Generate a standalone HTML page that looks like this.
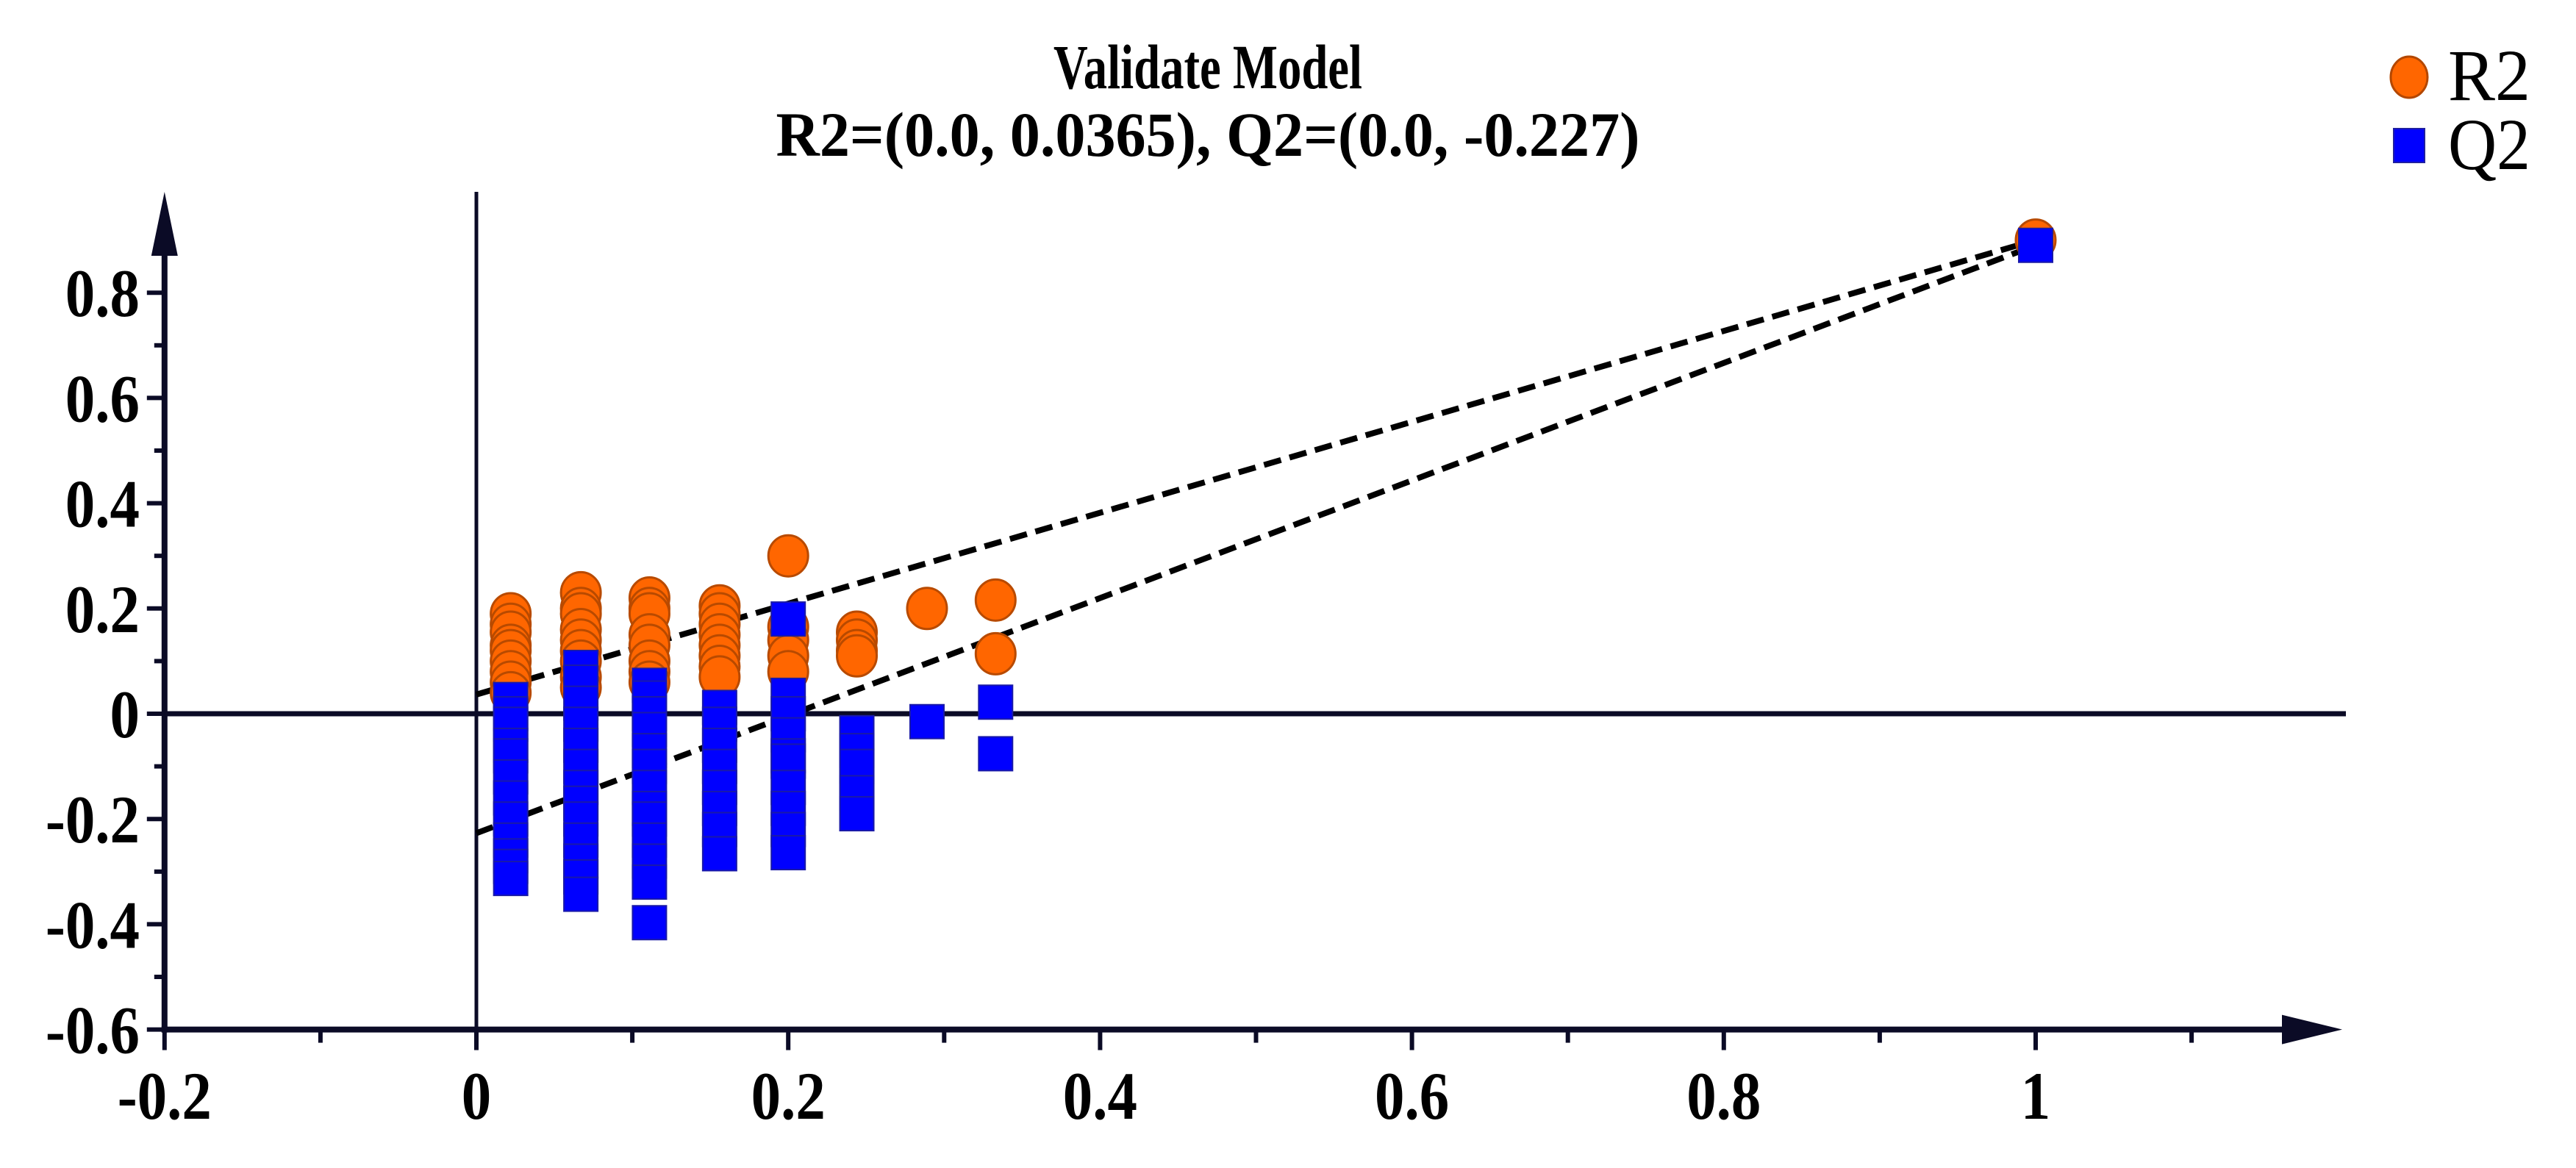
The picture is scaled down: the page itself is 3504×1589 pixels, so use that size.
<!DOCTYPE html>
<html><head><meta charset="utf-8"><style>
html,body{margin:0;padding:0;background:#fff;}
svg{display:block;}
text{font-family:"Liberation Serif",serif;}
</style></head>
<body>
<svg id="chart" width="3504" height="1589" viewBox="0 0 3504 1589" xmlns="http://www.w3.org/2000/svg">
<g id="titles">
<text x="1643" y="120" font-size="86" font-weight="bold" text-anchor="middle" textLength="420" lengthAdjust="spacingAndGlyphs">Validate Model</text>
<text x="1643" y="212" font-size="86" font-weight="bold" text-anchor="middle" textLength="1175" lengthAdjust="spacingAndGlyphs">R2=(0.0, 0.0365), Q2=(0.0, -0.227)</text>
</g>
<g id="legend">
<ellipse cx="3277" cy="105" rx="25" ry="28" fill="#ff6600" stroke="#b34700" stroke-width="3"/>
<text x="3330" y="136" font-size="100" textLength="112" lengthAdjust="spacingAndGlyphs">R2</text>
<rect x="3256" y="175" width="42" height="46" fill="#0000ff" stroke="#2020a0" stroke-width="2"/>
<text x="3330" y="230" font-size="100" textLength="112" lengthAdjust="spacingAndGlyphs">Q2</text>
</g>
<g id="axes"></g>
<g id="lines"></g>
<g id="r2pts"></g>
<g id="q2pts"></g>
</svg>
<script>
const xTicks = [-0.2, 0, 0.2, 0.4, 0.6, 0.8, 1];
const xTickLabels = ["-0.2", "0", "0.2", "0.4", "0.6", "0.8", "1"];
const yTicks = [0.8, 0.6, 0.4, 0.2, 0, -0.2, -0.4, -0.6];
const yTickLabels = ["0.8", "0.6", "0.4", "0.2", "0", "-0.2", "-0.4", "-0.6"];
const r2X = [0.022,0.022,0.022,0.022,0.022,0.022,0.022,0.022,0.022,
 0.067,0.067,0.067,0.067,0.067,0.067,0.067,0.067,0.067,
 0.111,0.111,0.111,0.111,0.111,0.111,0.111,0.111,
 0.156,0.156,0.156,0.156,0.156,0.156,0.156,0.156,
 0.2,0.2,0.2,0.2,0.2,
 0.244,0.244,0.244,0.244,
 0.289, 0.333,0.333, 1];
const r2Y = [0.19,0.17,0.155,0.13,0.12,0.10,0.08,0.06,0.04,
 0.23,0.20,0.19,0.16,0.14,0.12,0.10,0.07,0.05,
 0.22,0.20,0.19,0.15,0.13,0.10,0.08,0.06,
 0.205,0.19,0.17,0.15,0.13,0.11,0.09,0.07,
 0.30,0.165,0.14,0.11,0.08,
 0.155,0.14,0.12,0.11,
 0.20, 0.216,0.114, 0.90];
const q2X = [0.022,0.022,0.022,0.022,0.022,0.022,0.022,0.022,0.022,0.022,0.022,0.022,
 0.067,0.067,0.067,0.067,0.067,0.067,0.067,0.067,0.067,0.067,0.067,0.067,0.067,
 0.111,0.111,0.111,0.111,0.111,0.111,0.111,0.111,0.111,0.111,0.111,0.111,0.111,
 0.156,0.156,0.156,0.156,0.156,0.156,0.156,0.156,
 0.2,0.2,0.2,0.2,0.2,0.2,0.2,0.2,0.2,0.2,
 0.244,0.244,0.244,0.244,0.244,
 0.289, 0.333,0.333, 1];
const q2Y = [0.027,0.0,-0.02,-0.06,-0.08,-0.12,-0.16,-0.2,-0.24,-0.27,-0.29,-0.313,
 0.088,0.06,0.02,-0.02,-0.06,-0.1,-0.14,-0.17,-0.2,-0.24,-0.28,-0.31,-0.343,
 0.054,0.03,0.0,-0.03,-0.07,-0.1,-0.14,-0.18,-0.2,-0.24,-0.28,-0.32,-0.397,
 0.012,-0.02,-0.06,-0.1,-0.14,-0.18,-0.22,-0.266,
 0.18,0.035,0.0,-0.04,-0.08,-0.09,-0.14,-0.18,-0.22,-0.264,
 -0.036,-0.07,-0.1,-0.15,-0.19,
 -0.015, 0.022,-0.076, 0.89];
const r2Line = [0.0365, 0.90];
const q2Line = [-0.227, 0.89];

const NS = "http://www.w3.org/2000/svg";
function sx(v){ return 648 + v * 2121; }
function sy(v){ return 971 - v * 716; }
function mk(tag, attrs, parent){
  const e = document.createElementNS(NS, tag);
  for (const k in attrs) e.setAttribute(k, attrs[k]);
  parent.appendChild(e);
  return e;
}
const axes = document.getElementById('axes');
const C = "#0b0b26";
const yAx = sx(-0.2), xAx = sy(-0.6);
let e = mk('line', {x1:yAx, y1:330, x2:yAx, y2:xAx+4, stroke:C, 'stroke-width':8}, axes);


e = mk('polygon', {points:`${yAx},261 ${yAx-18},348 ${yAx+18},348`, fill:C}, axes);


e = mk('line', {x1:yAx-4, y1:xAx, x2:3120, y2:xAx, stroke:C, 'stroke-width':8}, axes);


e = mk('polygon', {points:`3186,${xAx} 3104,${xAx-20} 3104,${xAx+20}`, fill:C}, axes);


e = mk('line', {x1:yAx, y1:sy(0), x2:3191, y2:sy(0), stroke:C, 'stroke-width':7}, axes);


e = mk('line', {x1:sx(0), y1:261, x2:sx(0), y2:xAx, stroke:C, 'stroke-width':5}, axes);


for (let v = -6; v <= 8; v++) {
  const major = v % 2 === 0;
  e = mk('line', {x1:yAx-(major?24:14), y1:sy(v/10), x2:yAx, y2:sy(v/10), stroke:C, 'stroke-width':6}, axes);
  
  
}
yTicks.forEach((v,i)=>{
  const t = mk('text', {transform:`translate(190,${sy(v)+32}) scale(0.88,1)`, 'font-size':92, 'font-weight':'bold', 'text-anchor':'end', fill:'#000'}, axes);
  t.textContent = yTickLabels[i];
  
  
});
for (let v = -2; v <= 11; v++) {
  const major = v % 2 === 0;
  e = mk('line', {x1:sx(v/10), y1:xAx, x2:sx(v/10), y2:xAx+(major?28:18), stroke:C, 'stroke-width':6}, axes);
  
  
}
xTicks.forEach((v,i)=>{
  const t = mk('text', {transform:`translate(${sx(v)},1522) scale(0.88,1)`, 'font-size':92, 'font-weight':'bold', 'text-anchor':'middle', fill:'#000'}, axes);
  t.textContent = xTickLabels[i];
  
  
});
const lines = document.getElementById('lines');
e = mk('line', {x1:sx(0), y1:sy(r2Line[0]), x2:sx(1), y2:sy(r2Line[1]), stroke:'#000', 'stroke-width':8, 'stroke-dasharray':'24 12'}, lines);


e = mk('line', {x1:sx(0), y1:sy(q2Line[0]), x2:sx(1), y2:sy(q2Line[1]), stroke:'#000', 'stroke-width':8, 'stroke-dasharray':'24 12'}, lines);


const r2g = document.getElementById('r2pts');
r2X.forEach((x,i)=>{
  const c = mk('ellipse', {cx:sx(x), cy:sy(r2Y[i]), rx:27, ry:28, fill:'#ff6600', stroke:'#b84a00', 'stroke-width':3}, r2g);
  
  
});
const q2g = document.getElementById('q2pts');
q2X.forEach((x,i)=>{
  const r = mk('rect', {x:sx(x)-23, y:sy(q2Y[i])-23, width:46, height:46, fill:'#0000ff', stroke:'#1a1aa8', 'stroke-width':2}, q2g);
  
  
});
</script>
</body></html>
